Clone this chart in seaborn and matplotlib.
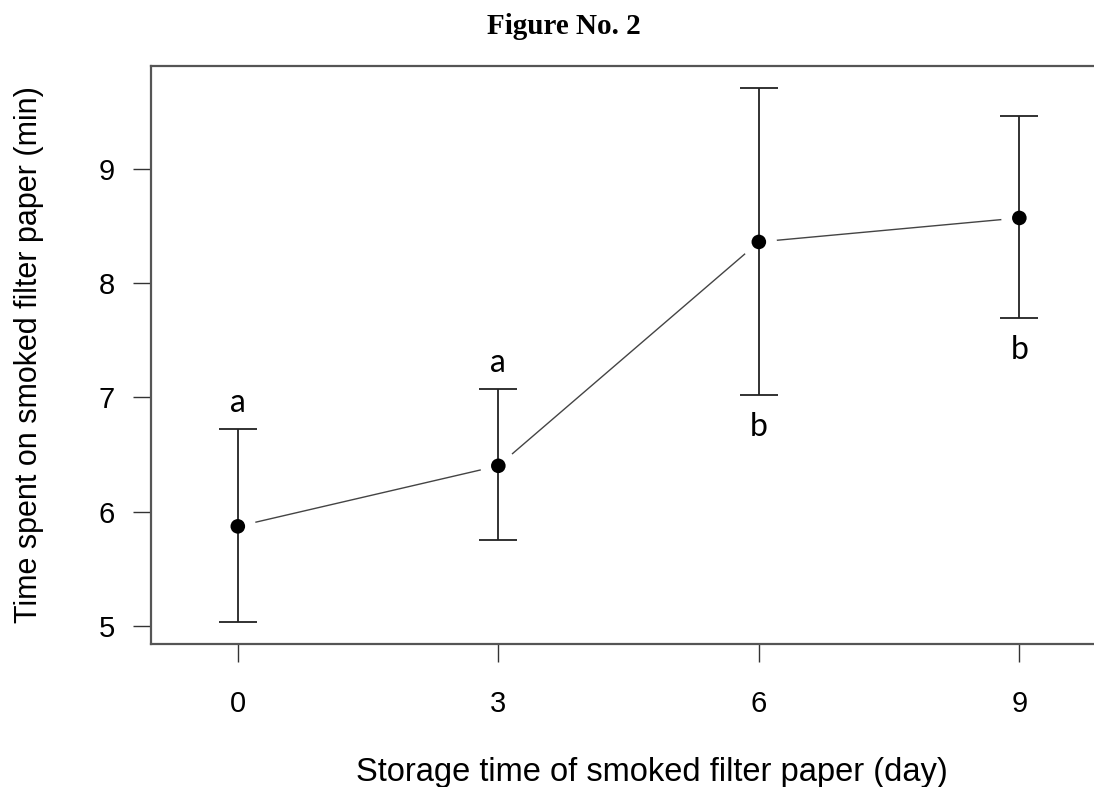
import pandas as pd
import numpy as np
import matplotlib
matplotlib.use("Agg")
import matplotlib.pyplot as plt
import seaborn as sns

# ------------------------------------------------------------
# DATA
# ------------------------------------------------------------
days = [0, 3, 6, 9]
mean_time = [5.87, 6.40, 8.36, 8.57]
lower = [5.03, 5.75, 7.02, 7.69]
upper = [6.72, 7.07, 9.71, 9.46]
letters = ["a", "a", "b", "b"]
letter_above = [True, True, False, False]

df = pd.DataFrame({"day": days, "time": mean_time, "lo": lower, "hi": upper})

# ------------------------------------------------------------
# STYLE
# ------------------------------------------------------------
sns.set_style("ticks")
plt.rcParams["font.family"] = ["Liberation Sans", "DejaVu Sans"]
plt.rcParams["text.color"] = "black"
plt.rcParams["axes.labelcolor"] = "black"

fig = plt.figure(figsize=(10.94, 7.87), dpi=100)
ax = fig.add_axes([0.138, 0.1817, 0.916, 0.7344])

# connecting line (R type="b" look: gaps around the points)
sns.lineplot(data=df, x="day", y="time", color="#444444", linewidth=1.0, ax=ax, zorder=1)
sns.scatterplot(data=df, x="day", y="time", s=26 ** 2, color="white",
                edgecolor="none", ax=ax, zorder=2, legend=False)

# error bars
ax.errorbar(df["day"], df["time"],
            yerr=[df["time"] - df["lo"], df["hi"] - df["time"]],
            fmt="none", ecolor="#222222", elinewidth=1.3, capsize=13.5,
            capthick=1.3, zorder=3)

# points
sns.scatterplot(data=df, x="day", y="time", s=10.5 ** 2, color="black",
                edgecolor="none", ax=ax, zorder=4, legend=False)

# significance letters
for d, lo, hi, lab, above in zip(days, lower, upper, letters, letter_above):
    if above:
        ax.annotate(lab, (d, hi), xytext=(0, 19), textcoords="offset points",
                    ha="center", va="center", fontsize=23, color="black",
                    family=["Lato", "DejaVu Sans"])
    else:
        ax.annotate(lab, (d, lo), xytext=(0, -23), textcoords="offset points",
                    ha="center", va="center", fontsize=23, color="black",
                    family=["Lato", "DejaVu Sans"])

# ------------------------------------------------------------
# AXES
# ------------------------------------------------------------
ax.set_xlim(-1.0, 10.54)
ax.set_ylim(4.84, 9.90)
ax.set_xticks(days)
ax.set_yticks([5, 6, 7, 8, 9])
ax.tick_params(axis="both", direction="out", length=13, width=1.0,
               color="#333333", labelsize=21, labelcolor="black")
ax.tick_params(axis="x", pad=20)
ax.tick_params(axis="y", pad=13)

for side in ["left", "top", "bottom"]:
    ax.spines[side].set_color("#555555")
    ax.spines[side].set_linewidth(1.6)
ax.spines["right"].set_visible(False)

ax.set_xlabel("Storage time of smoked filter paper (day)", fontsize=23.5, labelpad=28)
ax.set_ylabel("Time spent on smoked filter paper (min)", fontsize=22, labelpad=39)

fig.text(0.515, 0.966, "Figure No. 2", ha="center", va="center", fontsize=21,
         fontweight="bold", family=["Liberation Serif", "DejaVu Serif"])

plt.savefig("out.png", dpi=100)
plt.close()
